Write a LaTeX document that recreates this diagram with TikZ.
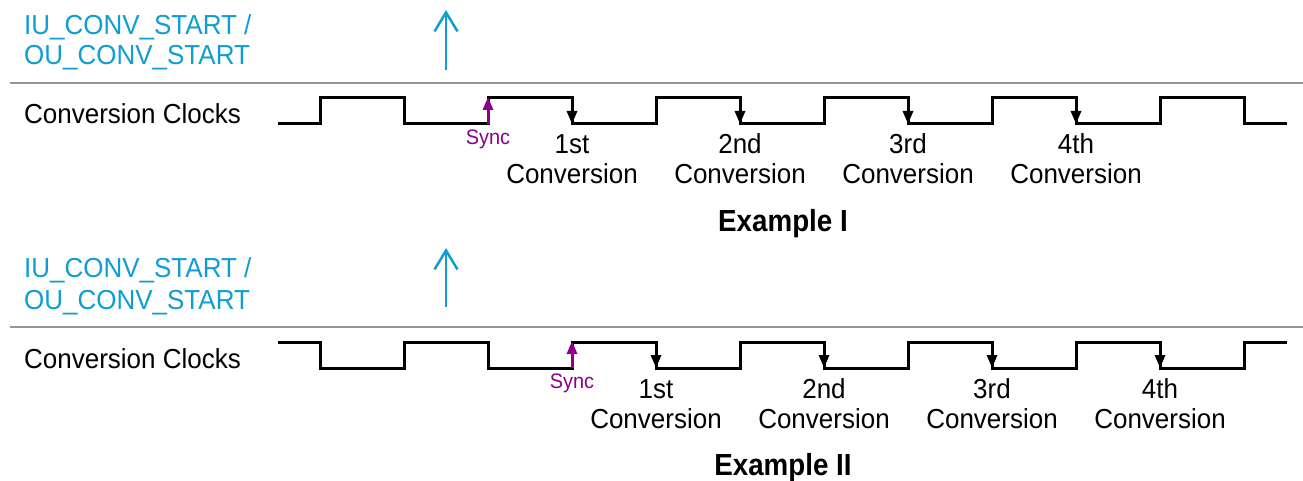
\documentclass[tikz,border=0pt]{standalone}
\usepackage{fontspec}
\setmainfont{Liberation Sans}
\newfontfamily\condfont[FakeStretch=0.945]{Liberation Sans}
\newfontfamily\condbold[FakeStretch=0.91]{Liberation Sans Bold}
\newfontfamily\syncfont[FakeStretch=0.95]{Liberation Sans}
\usetikzlibrary{arrows.meta}
\definecolor{cblue}{RGB}{16,158,210}
\definecolor{cpurple}{RGB}{140,0,140}
\definecolor{cgray}{RGB}{150,150,150}
\begin{document}
\begin{tikzpicture}[x=1pt,y=-1pt,
  txt/.style={font=\condfont\fontsize{27.5}{30}\selectfont, inner sep=0pt, anchor=base},
  bluetxt/.style={txt, text=cblue, anchor=base west},
  synctxt/.style={font=\syncfont\fontsize{21}{24}\selectfont, text=cpurple, inner sep=0pt, anchor=base},
  extxt/.style={font=\condbold\fontsize{30.5}{32}\selectfont, inner sep=0pt, anchor=base},
  clk/.style={line width=3pt, line join=miter, black},
  sep/.style={line width=2.5pt, cgray},
  trig/.style={line width=2.5pt, cblue, -{Straight Barb[length=19pt,width=23pt,line width=2.5pt]}},
  conv/.style={line width=3pt, black, -{Triangle[length=13pt,width=10pt]}},
  syncarr/.style={line width=3pt, cpurple, -{Triangle[length=13pt,width=10pt]}}]
\useasboundingbox (0,0) rectangle (1303,481);

% ---------------- Example I ----------------
\node[bluetxt] (b1a) at (24,35) {IU\_CONV\_START /};
\node[bluetxt] (b1b) at (24,65) {OU\_CONV\_START};
\coordinate (t1s) at (446,70);
\coordinate (t1e) at (446,10);
\draw[trig] (t1s) -- (t1e);
\coordinate (g1s) at (10,83);
\coordinate (g1e) at (1303,83);
\draw[sep] (g1s) -- (g1e);
\node[txt, anchor=base west] (cc1) at (24,124) {Conversion Clocks};

\draw[clk] (278,124) -- (320,124) -- (320,98) -- (404,98) -- (404,124)
  -- (488,124) -- (488,98) -- (572,98) -- (572,124)
  -- (656,124) -- (656,98) -- (740,98) -- (740,124)
  -- (824,124) -- (824,98) -- (908,98) -- (908,124)
  -- (992,124) -- (992,98) -- (1076,98) -- (1076,124)
  -- (1160,124) -- (1160,98) -- (1244,98) -- (1244,124) -- (1287,124);

\coordinate (s1a) at (488,124);
\coordinate (s1b) at (488,97);
\draw[syncarr] (s1a) -- (s1b);
\node[synctxt] (sy1) at (488,145) {Sync};

\foreach \x/\lab/\n in {572/1st/1,740/2nd/2,908/3rd/3,1076/4th/4}{
  \coordinate (f1\n a) at (\x,98);
  \coordinate (f1\n b) at (\x,124);
  \draw[conv] (f1\n a) -- (f1\n b);
  \node[txt] (l1\n a) at (\x,154) {\lab};
  \node[txt] (l1\n b) at (\x,184) {Conversion};
}
\node[extxt] (ex1) at (783,231) {Example I};

% ---------------- Example II ----------------
\node[bluetxt] (b2a) at (24,277) {IU\_CONV\_START /};
\node[bluetxt] (b2b) at (24,309) {OU\_CONV\_START};
\coordinate (t2s) at (446,307);
\coordinate (t2e) at (446,248);
\draw[trig] (t2s) -- (t2e);
\coordinate (g2s) at (10,327);
\coordinate (g2e) at (1303,327);
\draw[sep] (g2s) -- (g2e);
\node[txt, anchor=base west] (cc2) at (24,368) {Conversion Clocks};

\draw[clk] (278,342) -- (320,342) -- (320,368) -- (404,368) -- (404,342)
  -- (488,342) -- (488,368) -- (572,368) -- (572,342)
  -- (656,342) -- (656,368) -- (740,368) -- (740,342)
  -- (824,342) -- (824,368) -- (908,368) -- (908,342)
  -- (992,342) -- (992,368) -- (1076,368) -- (1076,342)
  -- (1160,342) -- (1160,368) -- (1244,368) -- (1244,342) -- (1287,342);

\coordinate (s2a) at (572,368);
\coordinate (s2b) at (572,341);
\draw[syncarr] (s2a) -- (s2b);
\node[synctxt] (sy2) at (572,388) {Sync};

\foreach \x/\lab/\n in {656/1st/1,824/2nd/2,992/3rd/3,1160/4th/4}{
  \coordinate (f2\n a) at (\x,342);
  \coordinate (f2\n b) at (\x,368);
  \draw[conv] (f2\n a) -- (f2\n b);
  \node[txt] (l2\n a) at (\x,398) {\lab};
  \node[txt] (l2\n b) at (\x,428) {Conversion};
}
\node[extxt] (ex2) at (783,475) {Example II};
\end{tikzpicture}
\end{document}
